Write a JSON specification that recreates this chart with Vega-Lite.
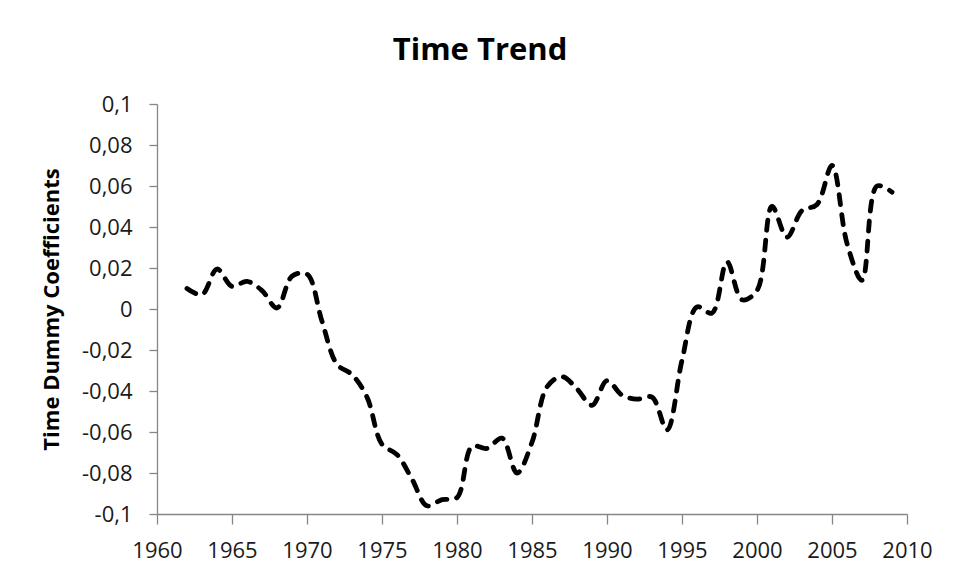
{
  "$schema": "https://vega.github.io/schema/vega-lite/v6.json",
  "autosize": {"type": "none"},
  "width": 750,
  "height": 410,
  "padding": {"left": 157, "top": 104, "right": 58, "bottom": 65},
  "background": "white",
  "config": {
    "locale": {"number": {"decimal": ",", "thousands": ".", "grouping": [3], "currency": ["", ""], "minus": "-"}},
    "view": {"stroke": null},
    "font": "Open Sans"
  },
  "title": {
    "text": "Time Trend",
    "font": "Open Sans",
    "fontSize": 31,
    "fontWeight": "bold",
    "color": "#000000",
    "anchor": "middle",
    "dx": -52,
    "offset": 26
  },
  "data": {
    "values": [
      {"year": 1962, "coef": 0.010},
      {"year": 1963, "coef": 0.007},
      {"year": 1964, "coef": 0.0195},
      {"year": 1965, "coef": 0.011},
      {"year": 1966, "coef": 0.0135},
      {"year": 1967, "coef": 0.009},
      {"year": 1968, "coef": 0.0005},
      {"year": 1969, "coef": 0.016},
      {"year": 1970, "coef": 0.017},
      {"year": 1971, "coef": -0.006},
      {"year": 1972, "coef": -0.027},
      {"year": 1973, "coef": -0.032},
      {"year": 1974, "coef": -0.043},
      {"year": 1975, "coef": -0.066},
      {"year": 1976, "coef": -0.071},
      {"year": 1977, "coef": -0.083},
      {"year": 1978, "coef": -0.096},
      {"year": 1979, "coef": -0.093},
      {"year": 1980, "coef": -0.092},
      {"year": 1981, "coef": -0.067},
      {"year": 1982, "coef": -0.068},
      {"year": 1983, "coef": -0.063},
      {"year": 1984, "coef": -0.080},
      {"year": 1985, "coef": -0.065},
      {"year": 1986, "coef": -0.038},
      {"year": 1987, "coef": -0.033},
      {"year": 1988, "coef": -0.039},
      {"year": 1989, "coef": -0.047},
      {"year": 1990, "coef": -0.035},
      {"year": 1991, "coef": -0.042},
      {"year": 1992, "coef": -0.044},
      {"year": 1993, "coef": -0.043},
      {"year": 1994, "coef": -0.059},
      {"year": 1995, "coef": -0.025},
      {"year": 1996, "coef": 0.001},
      {"year": 1997, "coef": -0.002},
      {"year": 1998, "coef": 0.023},
      {"year": 1999, "coef": 0.0045},
      {"year": 2000, "coef": 0.009},
      {"year": 2001, "coef": 0.050},
      {"year": 2002, "coef": 0.035},
      {"year": 2003, "coef": 0.048},
      {"year": 2004, "coef": 0.051},
      {"year": 2005, "coef": 0.070},
      {"year": 2006, "coef": 0.032},
      {"year": 2007, "coef": 0.014},
      {"year": 2008, "coef": 0.060},
      {"year": 2009, "coef": 0.057}
    ]
  },
  "mark": {
    "type": "line",
    "color": "#000000",
    "strokeWidth": 4.8,
    "strokeDash": [10, 10],
    "strokeCap": "round",
    "strokeJoin": "round",
    "interpolate": "catmull-rom"
  },
  "encoding": {
    "x": {
      "field": "year",
      "type": "quantitative",
      "scale": {"domain": [1960, 2010], "nice": false, "zero": false},
      "axis": {
        "title": null,
        "values": [1960, 1965, 1970, 1975, 1980, 1985, 1990, 1995, 2000, 2005, 2010],
        "format": "d",
        "grid": false,
        "domainColor": "#868686",
        "domainWidth": 1.3,
        "tickColor": "#868686",
        "tickWidth": 1.3,
        "tickSize": 10,
        "labelFont": "Open Sans",
        "labelFontSize": 22,
        "labelColor": "#1a1a1a",
        "labelPadding": 16,
        "labelFlush": false,
        "labelOverlap": false
      }
    },
    "y": {
      "field": "coef",
      "type": "quantitative",
      "scale": {"domain": [-0.1, 0.1], "nice": false, "zero": false},
      "axis": {
        "title": "Time Dummy Coefficients",
        "titleFont": "Open Sans",
        "titleFontSize": 22,
        "titleFontWeight": "bold",
        "titleColor": "#000000",
        "titlePadding": 18,
        "values": [-0.1, -0.08, -0.06, -0.04, -0.02, 0, 0.02, 0.04, 0.06, 0.08, 0.1],
        "format": ".2~f",
        "grid": false,
        "domainColor": "#868686",
        "domainWidth": 1.3,
        "tickColor": "#868686",
        "tickWidth": 1.3,
        "tickSize": 8,
        "labelFont": "Open Sans",
        "labelFontSize": 22,
        "labelColor": "#1a1a1a",
        "labelPadding": 17,
        "labelFlush": false,
        "labelOverlap": false
      }
    }
  }
}
